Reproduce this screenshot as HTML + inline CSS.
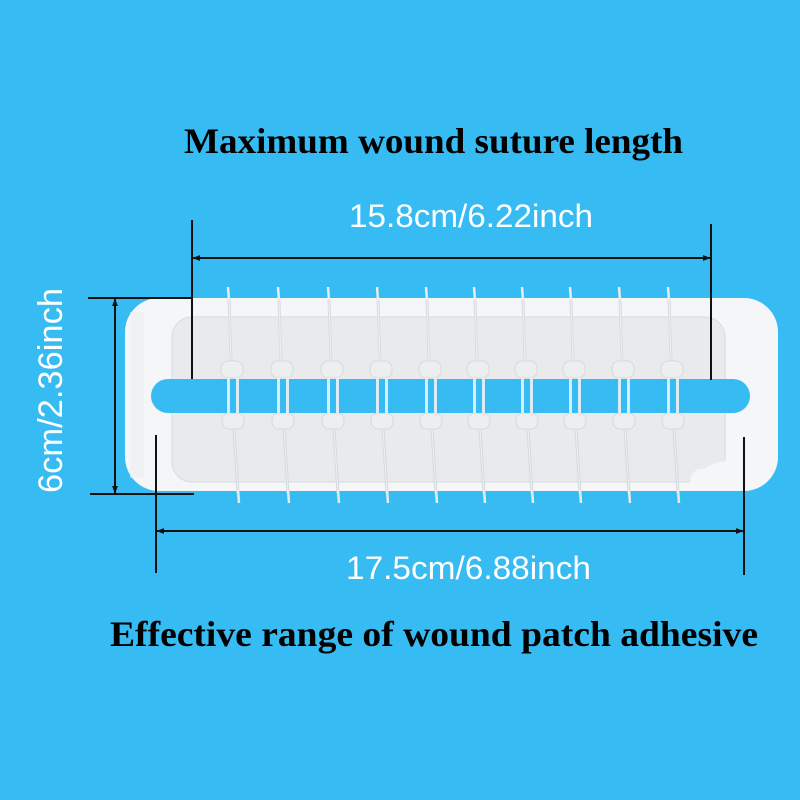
<!DOCTYPE html>
<html><head><meta charset="utf-8"><style>
html,body{margin:0;padding:0;background:#37bbf3;}
svg{display:block;}
</style></head><body>
<svg width="800" height="800" viewBox="0 0 800 800" xmlns="http://www.w3.org/2000/svg">
<defs>
<marker id="ah" viewBox="0 0 10 10" refX="9" refY="5" markerWidth="8" markerHeight="6" orient="auto-start-reverse" markerUnits="userSpaceOnUse" preserveAspectRatio="none">
<path d="M0,0 L10,5 L0,10 Z" fill="#111"/>
</marker>
<g id="sut">
<line x1="1" y1="287" x2="2" y2="300" stroke="#e8edf0" stroke-width="2.5"/>
<line x1="2" y1="300" x2="4" y2="362" stroke="#d9dde0" stroke-width="3"/>
<line x1="2" y1="300" x2="4" y2="362" stroke="#eef0f2" stroke-width="1"/>
<rect x="-6" y="361" width="22" height="17" rx="7" fill="#eceef0" stroke="#d6dade" stroke-width="1"/>
<rect x="0" y="376" width="3" height="39" fill="#e2edf3"/>
<rect x="9" y="376" width="3" height="39" fill="#e2edf3"/>
<rect x="-5" y="413" width="22" height="16" rx="7" fill="#eceef0" stroke="#d6dade" stroke-width="1"/>
<line x1="7" y1="430" x2="11" y2="493" stroke="#d6dadd" stroke-width="3"/>
<line x1="7" y1="430" x2="11" y2="493" stroke="#eef0f2" stroke-width="1"/>
<line x1="11" y1="490" x2="12" y2="503" stroke="#e6ebee" stroke-width="2.5"/>
</g>
</defs>

<rect width="800" height="800" fill="#37bbf3"/>

<!-- patch -->
<rect x="125" y="298" width="653" height="193" rx="34" fill="#f5f6f7"/>
<rect x="130" y="312" width="14" height="166" fill="#eceef0" opacity="0.6"/>
<rect x="172" y="317" width="553" height="165" rx="20" fill="#e8eaec" stroke="#d8dbde" stroke-width="1"/>
<path d="M690,483 C690,472 698,467 705,469 C711,463 718,462 726,461 L726,483 Z" fill="#f5f6f7"/>

<!-- sutures -->
<use href="#sut" transform="translate(227,0)"/>
<use href="#sut" transform="translate(277,0)"/>
<use href="#sut" transform="translate(327,0)"/>
<use href="#sut" transform="translate(376,0)"/>
<use href="#sut" transform="translate(425,0)"/>
<use href="#sut" transform="translate(473,0)"/>
<use href="#sut" transform="translate(521,0)"/>
<use href="#sut" transform="translate(569,0)"/>
<use href="#sut" transform="translate(618,0)"/>
<use href="#sut" transform="translate(667,0)"/>

<!-- slot -->
<rect x="151" y="379" width="599" height="34" rx="17" fill="#37bbf3"/>
<!-- legs over slot -->
<g fill="#dcecf4">
<rect x="227" y="379" width="3" height="34"/><rect x="236" y="379" width="3" height="34"/>
<rect x="277" y="379" width="3" height="34"/><rect x="286" y="379" width="3" height="34"/>
<rect x="327" y="379" width="3" height="34"/><rect x="336" y="379" width="3" height="34"/>
<rect x="376" y="379" width="3" height="34"/><rect x="385" y="379" width="3" height="34"/>
<rect x="425" y="379" width="3" height="34"/><rect x="434" y="379" width="3" height="34"/>
<rect x="473" y="379" width="3" height="34"/><rect x="482" y="379" width="3" height="34"/>
<rect x="521" y="379" width="3" height="34"/><rect x="530" y="379" width="3" height="34"/>
<rect x="569" y="379" width="3" height="34"/><rect x="578" y="379" width="3" height="34"/>
<rect x="618" y="379" width="3" height="34"/><rect x="627" y="379" width="3" height="34"/>
<rect x="667" y="379" width="3" height="34"/><rect x="676" y="379" width="3" height="34"/>
</g>

<!-- dimension lines -->
<g stroke="#111" stroke-width="2" fill="none">
<line x1="192" y1="220" x2="192" y2="379"/>
<line x1="711" y1="224" x2="711" y2="380"/>
<line x1="193" y1="258" x2="710" y2="258" marker-start="url(#ah)" marker-end="url(#ah)"/>

<line x1="88" y1="298" x2="193" y2="298"/>
<line x1="90" y1="494" x2="194" y2="494"/>
<line x1="115" y1="299" x2="115" y2="493" marker-start="url(#ah)" marker-end="url(#ah)"/>

<line x1="156" y1="435" x2="156" y2="573"/>
<line x1="744" y1="437" x2="744" y2="575"/>
<line x1="157" y1="531" x2="743" y2="531" marker-start="url(#ah)" marker-end="url(#ah)"/>
</g>

<!-- texts -->
<text x="184" y="153" font-family="'Liberation Serif', serif" font-weight="bold" font-size="36" fill="#000" textLength="499" lengthAdjust="spacingAndGlyphs">Maximum wound suture length</text>
<text x="349" y="227" font-family="'Liberation Sans', sans-serif" font-size="32" fill="#ffffff" textLength="244" lengthAdjust="spacingAndGlyphs">15.8cm/6.22inch</text>
<text x="346" y="579" font-family="'Liberation Sans', sans-serif" font-size="32" fill="#ffffff" textLength="245" lengthAdjust="spacingAndGlyphs">17.5cm/6.88inch</text>
<text transform="translate(62,493) rotate(-90)" x="0" y="0" font-family="'Liberation Sans', sans-serif" font-size="34" fill="#ffffff" textLength="205" lengthAdjust="spacingAndGlyphs">6cm/2.36inch</text>
<text x="110" y="646" font-family="'Liberation Serif', serif" font-weight="bold" font-size="36" fill="#000" textLength="648" lengthAdjust="spacingAndGlyphs">Effective range of wound patch adhesive</text>
</svg>
</body></html>
